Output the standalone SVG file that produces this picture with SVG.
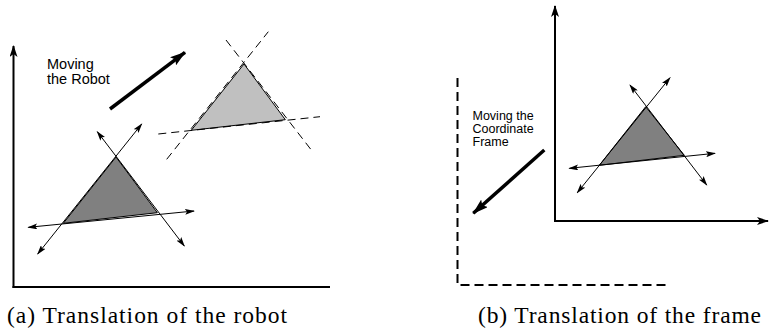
<svg xmlns="http://www.w3.org/2000/svg" width="769" height="331" viewBox="0 0 769 331">
<style>
.ax{stroke:#000;stroke-width:2;fill:none}
.thin{stroke:#000;stroke-width:1;fill:none}
.dash{stroke:#000;stroke-width:1;fill:none;stroke-dasharray:8 5}
.fdash{stroke:#000;stroke-width:2;fill:none;stroke-dasharray:9 5}
.thick{stroke:#000;stroke-width:3.5;fill:none}
.lbl{font-family:"Liberation Sans",Arial,sans-serif;font-size:14.5px;fill:#000}
.lbl2{font-family:"Liberation Sans",Arial,sans-serif;font-size:12.5px;fill:#000}
.cap{font-family:"Liberation Serif","Times New Roman",serif;font-size:23.5px;fill:#000}
</style>
<defs>
<marker id="ah" viewBox="0 0 10 6" refX="9" refY="3" markerWidth="10" markerHeight="6" markerUnits="userSpaceOnUse" orient="auto-start-reverse">
<path d="M0,0 L10,3 L0,6 L2,3 Z" fill="#000"/>
</marker>
<marker id="axh" viewBox="0 0 12 8" refX="11" refY="4" markerWidth="12" markerHeight="8" markerUnits="userSpaceOnUse" orient="auto">
<path d="M0,0 L12,4 L0,8 L3,4 Z" fill="#000"/>
</marker>
<marker id="bh" viewBox="0 0 16 10" refX="15" refY="5" markerWidth="16" markerHeight="10" markerUnits="userSpaceOnUse" orient="auto">
<path d="M0,0 L16,5 L0,10 L3,5 Z" fill="#000"/>
</marker>
</defs>
<g id="panel-a">
<g id="axes-a">
<line class="ax" x1="13.5" y1="288" x2="13.5" y2="46" marker-end="url(#axh)"/>
<line class="ax" x1="12.5" y1="287" x2="330" y2="287"/>
</g>
<g id="label-a">
<text class="lbl" x="47" y="69">Moving</text>
<text class="lbl" x="47" y="84">the Robot</text>
</g>
<g id="robot-old">
<polygon points="116,157 63.3,223.3 157.3,212.7" fill="#808080" stroke="#000" stroke-width="1"/>
</g>
<g id="robot-new">
<polygon points="244,64 191.3,130.3 285.3,119.7" fill="#c0c0c0" stroke="#000" stroke-width="1"/>
</g>
</g>
<g id="panel-b">
<g id="axes-b">
<line class="ax" x1="555" y1="222" x2="555" y2="6" marker-end="url(#axh)"/>
<line class="ax" x1="554" y1="221" x2="768" y2="221" marker-end="url(#axh)"/>
<polyline class="fdash" points="457.5,78 457.5,285 668,285"/>
</g>
<g id="label-b">
<text class="lbl2" x="472.5" y="119.5">Moving the</text>
<text class="lbl2" x="472.5" y="132.5">Coordinate</text>
<text class="lbl2" x="472.5" y="145.5">Frame</text>
</g>
<g id="robot-b">
<polygon points="645.7,106.7 599.3,165.3 684.3,155.3" fill="#808080" stroke="#000" stroke-width="1"/>
</g>
</g>
<g id="connectors">
<line class="thick" x1="110" y1="109" x2="185" y2="52.3" marker-end="url(#bh)"/>
<line class="thin" x1="37.7" y1="254" x2="141.7" y2="124" marker-start="url(#ah)" marker-end="url(#ah)"/>
<line class="thin" x1="97.3" y1="131.7" x2="184.3" y2="246" marker-start="url(#ah)" marker-end="url(#ah)"/>
<line class="thin" x1="28.3" y1="227.3" x2="194" y2="211" marker-start="url(#ah)" marker-end="url(#ah)"/>
<line class="dash" x1="166.7" y1="159.3" x2="268.3" y2="31.7"/>
<line class="dash" x1="226" y1="40" x2="311.3" y2="150"/>
<line class="dash" x1="158.3" y1="134" x2="320" y2="116.7"/>
<line class="thick" x1="544.3" y1="150" x2="473.3" y2="213.3" marker-end="url(#bh)"/>
<line class="thin" x1="577.3" y1="192.7" x2="670" y2="77.7" marker-start="url(#ah)" marker-end="url(#ah)"/>
<line class="thin" x1="630" y1="85" x2="706.7" y2="185" marker-start="url(#ah)" marker-end="url(#ah)"/>
<line class="thin" x1="569.3" y1="168.3" x2="715" y2="153.3" marker-start="url(#ah)" marker-end="url(#ah)"/>
</g>
<g id="captions">
<text class="cap" x="7" y="323" textLength="280">(a) Translation of the robot</text>
<text class="cap" x="478" y="323" textLength="283">(b) Translation of the frame</text>
</g>
</svg>
